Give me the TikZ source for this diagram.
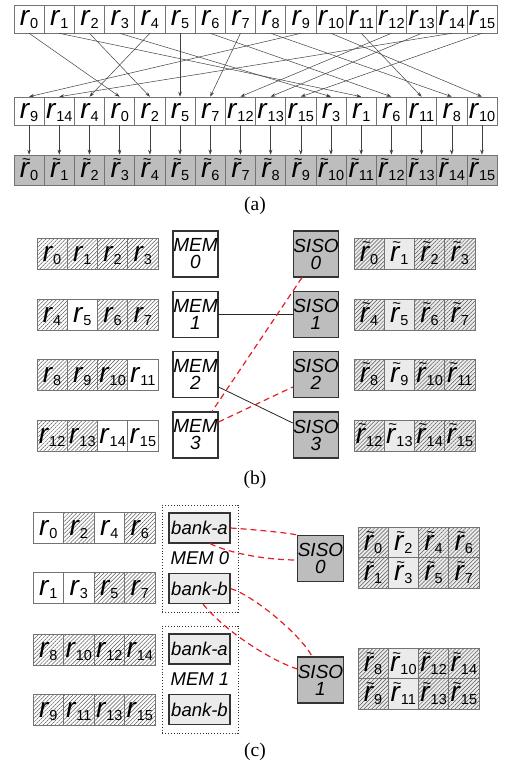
\documentclass[tikz,border=0pt]{standalone}
\usepackage{fontspec}
\setmainfont{Liberation Sans}
\newfontfamily\capfont{Liberation Serif}
\usetikzlibrary{patterns.meta,arrows.meta}
\definecolor{cellline}{gray}{0.45}
\definecolor{boxline}{gray}{0.2}
\definecolor{midgray}{gray}{0.74}
\definecolor{lightgraytwo}{gray}{0.92}
\definecolor{dashred}{RGB}{228,30,36}
\definecolor{hatchc}{gray}{0.35}
\newcommand{\rs}[1]{\fontsize{28}{28}\selectfont\textit{r}\raisebox{-3pt}{\fontsize{14.5}{14.5}\selectfont#1}}
\newcommand{\rt}[1]{\fontsize{28}{28}\selectfont\textit{\rlap{\kern2pt\raisebox{13.5pt}{\fontsize{15}{15}\selectfont\textasciitilde}}r}\raisebox{-3pt}{\fontsize{14.5}{14.5}\selectfont#1}}
\tikzset{
  x=1pt, y=-1pt,
  cellA/.style={draw=cellline, line width=0.6pt, inner sep=0pt, minimum width=30.19pt, minimum height=28pt, text height=21pt, text depth=7pt, fill=white},
  cellG/.style={cellA, fill=midgray, minimum height=30pt, text height=22.5pt, text depth=7.5pt},
  arr/.style={-{Stealth[length=5pt,width=3.5pt]}, draw=black!75, line width=0.5pt},
  lcell/.style={draw=cellline, line width=0.6pt, inner sep=0pt, minimum width=30.25pt, minimum height=31pt, text height=23pt, text depth=8pt},
  lw/.style={lcell, fill=white},
  lh/.style={lcell, preaction={fill=white}, pattern={Lines[angle=45,distance=2.8pt,line width=0.5pt]}, pattern color=hatchc},
  rp/.style={lcell, fill=lightgraytwo},
  rh/.style={lcell, preaction={fill=lightgraytwo}, pattern={Lines[angle=45,distance=2.8pt,line width=0.5pt]}, pattern color=hatchc},
  mem/.style={draw=boxline, line width=1.1pt, fill=white, minimum width=45pt, minimum height=46pt, inner sep=0pt, align=center, font=\fontsize{19}{17}\selectfont\itshape},
  siso/.style={mem, fill=midgray},
  bank/.style={draw=boxline, line width=1.1pt, fill=lightgraytwo, minimum width=61pt, minimum height=30pt, inner sep=0pt, font=\fontsize{18.5}{18.5}\selectfont\itshape},
  dbox/.style={draw=boxline, dotted, line width=0.9pt, minimum width=76pt, minimum height=107pt, inner sep=0pt, font=\fontsize{18.5}{18.5}\selectfont\itshape},
  sline/.style={draw=black!85, line width=0.8pt},
  rdash/.style={draw=dashred, line width=1.2pt, dash pattern=on 6pt off 4pt},
  captxt/.style={font=\capfont\fontsize{19.5}{19.5}\selectfont, inner sep=0pt}
}
\begin{document}
\begin{tikzpicture}
\useasboundingbox (0,0) rectangle (505,768);
% ---------- (a) ----------
\foreach \i in {0,...,15}
  \node[cellA] (t\i) at ({14+30.19*(\i+0.5)},19) {\rs{\i}};
\foreach \v [count=\j from 0] in {9,14,4,0,2,5,7,12,13,15,3,1,6,11,8,10}
  \node[cellA, alias=mp\j] (m\v) at ({14+30.19*(\j+0.5)},111) {\rs{\v}};
\foreach \j in {0,...,15}
  \node[cellG] (b\j) at ({14+30.19*(\j+0.5)},170) {\rt{\j}};
\foreach \i in {0,...,15}
  \draw[arr] (t\i.south) -- (m\i.north);
\foreach \j in {0,...,15}
  \draw[arr] (mp\j.south) -- (b\j.north);
\node[captxt] (capa) at (255,206) {(a)};
% ---------- (b) ----------
\foreach \lab/\st [count=\k from 0] in {0/lh,1/lh,2/lh,3/lh}
  \node[\st] (bl0-\k) at ({37+30.25*(\k+0.5)},253.5) {\rs{\lab}};
\foreach \lab/\st [count=\k from 0] in {4/lh,5/lw,6/lh,7/lh}
  \node[\st] (bl1-\k) at ({37+30.25*(\k+0.5)},314.5) {\rs{\lab}};
\foreach \lab/\st [count=\k from 0] in {8/lh,9/lh,10/lh,11/lw}
  \node[\st] (bl2-\k) at ({37+30.25*(\k+0.5)},374.5) {\rs{\lab}};
\foreach \lab/\st [count=\k from 0] in {12/lh,13/lh,14/lw,15/lw}
  \node[\st] (bl3-\k) at ({37+30.25*(\k+0.5)},435.5) {\rs{\lab}};
\foreach \lab/\st [count=\k from 0] in {0/rh,1/rp,2/rh,3/rh}
  \node[\st] (br0-\k) at ({354+30.25*(\k+0.5)},253.5) {\rt{\lab}};
\foreach \lab/\st [count=\k from 0] in {4/rh,5/rp,6/rh,7/rh}
  \node[\st] (br1-\k) at ({354+30.25*(\k+0.5)},314.5) {\rt{\lab}};
\foreach \lab/\st [count=\k from 0] in {8/rh,9/rp,10/rh,11/rh}
  \node[\st] (br2-\k) at ({354+30.25*(\k+0.5)},374.5) {\rt{\lab}};
\foreach \lab/\st [count=\k from 0] in {12/rh,13/rp,14/rh,15/rh}
  \node[\st] (br3-\k) at ({354+30.25*(\k+0.5)},435.5) {\rt{\lab}};
\node[mem] (M0) at (195.5,254) {MEM\\0};
\node[mem] (M1) at (195.5,314.5) {MEM\\1};
\node[mem] (M2) at (195.5,374.5) {MEM\\2};
\node[mem] (M3) at (195.5,435) {MEM\\3};
\node[siso] (S0) at (316,254) {SISO\\0};
\node[siso] (S1) at (316,314.5) {SISO\\1};
\node[siso] (S2) at (316,374.5) {SISO\\2};
\node[siso] (S3) at (316,435) {SISO\\3};
\draw[sline] (M1.east) -- (S1.west);
\draw[sline] ([yshift=-12.5pt]M2.east) -- ([yshift=12pt]S3.west);
\draw[rdash] ([xshift=-14pt]S0.south) -- ([xshift=16.5pt]M3.north);
\draw[rdash] ([yshift=13pt]M3.east) -- ([yshift=-12.5pt]S2.west);
\node[captxt] (capb) at (255,480) {(b)};
% ---------- (c) ----------
\foreach \lab/\st [count=\k from 0] in {0/lw,2/lh,4/lw,6/lh}
  \node[\st, minimum height=30pt] (cl0-\k) at ({33+30.5*(\k+0.5)},528) {\rs{\lab}};
\foreach \lab/\st [count=\k from 0] in {1/lw,3/lw,5/lh,7/lh}
  \node[\st, minimum height=30pt] (cl1-\k) at ({33+30.5*(\k+0.5)},588) {\rs{\lab}};
\foreach \lab/\st [count=\k from 0] in {8/lh,10/lh,12/lh,14/lh}
  \node[\st, minimum height=30pt] (cl2-\k) at ({33+30.5*(\k+0.5)},649.5) {\rs{\lab}};
\foreach \lab/\st [count=\k from 0] in {9/lh,11/lh,13/lh,15/lh}
  \node[\st, minimum height=30pt] (cl3-\k) at ({33+30.5*(\k+0.5)},710) {\rs{\lab}};
\node[dbox] (D0) at (200,558.5) {MEM 0};
\node[dbox] (D1) at (200,679.5) {MEM 1};
\node[bank] (A0) at (199.5,528) {bank-a};
\node[bank] (B0) at (199.5,588.5) {bank-b};
\node[bank] (A1) at (199.5,649) {bank-a};
\node[bank] (B1) at (199.5,709.5) {bank-b};
\node[siso] (C0) at (320.5,558.5) {SISO\\0};
\node[siso] (C1) at (320.5,680) {SISO\\1};
\foreach \lab/\st [count=\k from 0] in {0/rh,2/rp,4/rh,6/rh}
  \node[\st, minimum height=30pt] (cr0-\k) at ({358+30.25*(\k+0.5)},543) {\rt{\lab}};
\foreach \lab/\st [count=\k from 0] in {1/rh,3/rp,5/rh,7/rh}
  \node[\st, minimum height=30pt] (cr1-\k) at ({358+30.25*(\k+0.5)},573) {\rt{\lab}};
\foreach \lab/\st [count=\k from 0] in {8/rh,10/rp,12/rh,14/rh}
  \node[\st, minimum height=30pt] (cr2-\k) at ({358+30.25*(\k+0.5)},664) {\rt{\lab}};
\foreach \lab/\st [count=\k from 0] in {9/rh,11/rp,13/rh,15/rh}
  \node[\st, minimum height=30pt] (cr3-\k) at ({358+30.25*(\k+0.5)},694) {\rt{\lab}};
\draw[rdash] (A0.east) .. controls +(15,1) and +(-15,-3) .. (C0.north west);
\draw[rdash] ([xshift=10.5pt]A0.south) .. controls +(20,10) and +(-30,0) .. ([yshift=-1.5pt]C0.west);
\draw[rdash] (B0.east) .. controls +(25,8) and +(-10,-20) .. ([xshift=-8.5pt]C1.north);
\draw[rdash] ([xshift=3.5pt]B0.south) .. controls +(20,25) and +(-30,-10) .. ([yshift=11pt]C1.west);
\node[captxt] (capc) at (255,752) {(c)};
\end{tikzpicture}
\end{document}
